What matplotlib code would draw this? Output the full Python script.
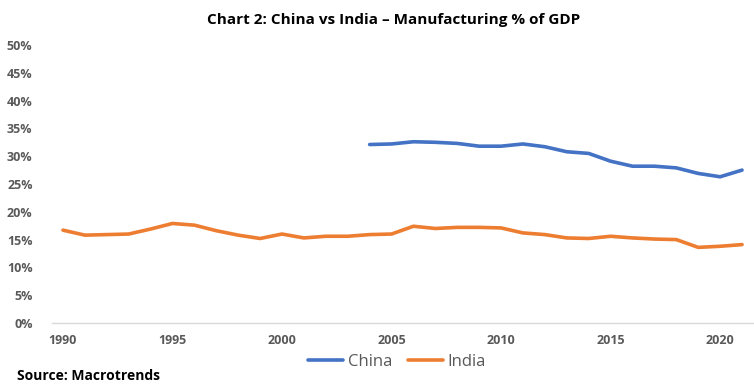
import matplotlib
matplotlib.use("Agg")
import matplotlib.pyplot as plt
from matplotlib.ticker import FuncFormatter

years_china = list(range(2004, 2022))
china = [32.1, 32.2, 32.6, 32.5, 32.3, 31.8, 31.8, 32.2, 31.7, 30.8, 30.5, 29.1,
         28.2, 28.2, 27.9, 26.9, 26.3, 27.5]
years_india = list(range(1990, 2022))
india = [16.7, 15.8, 15.9, 16.0, 16.9, 17.9, 17.6, 16.6, 15.8, 15.2, 16.0, 15.3,
         15.6, 15.6, 15.9, 16.0, 17.4, 17.0, 17.2, 17.2, 17.1, 16.2, 15.9, 15.3,
         15.2, 15.6, 15.3, 15.1, 15.0, 13.6, 13.8, 14.1]
xticks = [1990, 1995, 2000, 2005, 2010, 2015, 2020]
yticks = [0, 5, 10, 15, 20, 25, 30, 35, 40, 45, 50]

plt.rcParams['font.family'] = ['Open Sans', 'DejaVu Sans']
W, H = 754, 386
fig = plt.figure(figsize=(W/100, H/100), dpi=100)
ax = fig.add_axes([52/W, 1-323/H, (753-52)/W, (323-45)/H])

blue = '#4472C4'
orange = '#ED7D31'
ax.plot(years_china, china, color=blue, lw=2.6, label='China', solid_capstyle='round')
ax.plot(years_india, india, color=orange, lw=2.6, label='India', solid_capstyle='round')

ax.set_xlim(1989.5, 2021.5)
ax.set_ylim(0, 50)
ax.set_yticks(yticks)
ax.set_xticks(xticks)
ax.yaxis.set_major_formatter(FuncFormatter(lambda v, p: f"{int(v)}%"))
for s in ['top', 'right', 'left']:
    ax.spines[s].set_visible(False)
ax.spines['bottom'].set_color('#d9d9d9')
ax.spines['bottom'].set_linewidth(1.0)
ax.tick_params(axis='both', length=0, labelsize=9, labelcolor='#595959')
ax.tick_params(axis='y', pad=14)
ax.tick_params(axis='x', pad=8)
for lab in ax.get_xticklabels() + ax.get_yticklabels():
    lab.set_fontweight('bold')

fig.text(394/W, 1-20/H, 'Chart 2: China vs India \u2013 Manufacturing % of GDP',
         ha='center', va='center', fontsize=11, fontweight='bold', color='#000000')

leg = fig.legend(loc='center', bbox_to_anchor=(397/W, 1-362/H), ncol=2, frameon=False,
                 fontsize=12, handlelength=2.1, columnspacing=0.9, handletextpad=0.3)
for t in leg.get_texts():
    t.set_color('#595959')

fig.text(17/W, 1-376/H, 'Source: Macrotrends', ha='left', va='center',
         fontsize=10, fontweight='bold', color='#000000')

fig.savefig('out.png', dpi=100)
